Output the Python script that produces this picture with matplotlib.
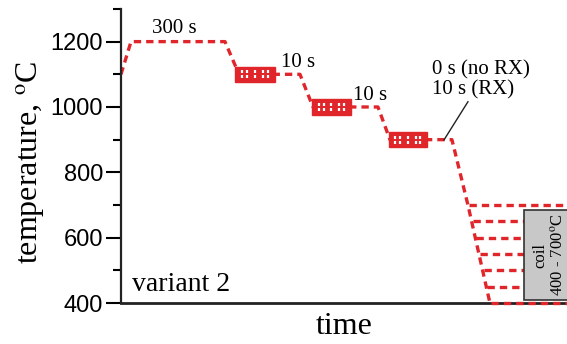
import matplotlib
matplotlib.use('Agg')
import matplotlib.pyplot as plt
from matplotlib.patches import Rectangle
import numpy as np

plt.rcParams['mathtext.fontset'] = 'stix'

# schedule (time in arbitrary units, temperature in C)
path_time = [0, 10, 104, 118, 179, 192, 257, 269, 331, 347, 369]
path_temp = [1100, 1200, 1200, 1100, 1100, 1000, 1000, 900, 900, 700, 400]

# rolling passes
roll_start = [114, 191, 268]
roll_end = [154, 230, 306]
roll_temp = [1100, 1000, 900]

# coiling temperatures
coil_temps = [700, 650, 600, 550, 500, 450, 400]
coil_box = (403, 409, 685)  # x start, T low, T high

red = '#e0262b'

fig = plt.figure(figsize=(5.67, 3.44), dpi=100)
ax = fig.add_axes([0.2134, 0.119, 0.79, 0.855])

# main dashed path
ax.plot(path_time, path_temp, color=red, lw=2.4, dashes=(2.2, 1.5), zorder=2)

# branches to coiling
for T in coil_temps:
    xs = np.interp(T, [400, 700], [369, 347]) + 1
    z = 4 if T in (700, 400) else 1
    ax.plot([xs, 460], [T, T], color=red, lw=2.4, dashes=(2.2, 1.5), zorder=z,
            clip_on=False)

# coil box
ax.add_patch(Rectangle((coil_box[0], coil_box[1]), 60, coil_box[2] - coil_box[1],
                       facecolor='#c8c8c8', edgecolor='#333333', lw=1.2, zorder=3,
                       clip_on=False))
ax.text(419, 547, 'coil', rotation=90, ha='center', va='center', fontsize=12,
        family='Liberation Serif', zorder=5)
ax.text(437, 547, '400 - 700$^{\\rm o}$C', rotation=90, ha='center', va='center',
        fontsize=12, family='Liberation Serif', zorder=5, clip_on=False)

# roll pass symbols
for x0, x1, T in zip(roll_start, roll_end, roll_temp):
    ax.add_patch(Rectangle((x0, T - 23), x1 - x0, 46, facecolor=red, edgecolor=red,
                           lw=1, zorder=4))
    w = x1 - x0
    for f in [0.17, 0.3, 0.5, 0.7, 0.83]:
        ax.plot([x0 + f * w] * 2, [T + 3, T + 12], color='white', lw=1.6, zorder=5,
                solid_capstyle='butt')
        ax.plot([x0 + f * w] * 2, [T - 12, T - 3], color='white', lw=1.6, zorder=5,
                solid_capstyle='butt')

# annotations
tf = dict(family='Liberation Serif', fontsize=15, va='baseline')
ax.text(53.5, 1227, '300 s', ha='center', **tf)
ax.text(160, 1123, '10 s', ha='left', **tf)
ax.text(232, 1022, '10 s', ha='left', **tf)
ax.text(311, 1098, '0 s (no RX)', ha='left', **tf)
ax.text(311, 1037, '10 s (RX)', ha='left', **tf)
ax.plot([347, 323], [1016, 899], color='#222222', lw=1.0, zorder=5)
ax.text(11, 437, 'variant 2', family='Liberation Serif', fontsize=20, va='baseline')

ax.set_xlim(0, 448)
ax.set_ylim(400, 1300)
ax.set_yticks([400, 600, 800, 1000, 1200])
ax.set_yticks([500, 700, 900, 1100, 1300], minor=True)
ax.set_xticks([])
for lab in ax.get_yticklabels():
    lab.set_family('Liberation Sans')
ax.tick_params(axis='y', which='major', length=11, width=1.5, labelsize=17, pad=2)
ax.tick_params(axis='y', which='minor', length=6, width=1.5)
ax.spines['top'].set_visible(False)
ax.spines['right'].set_visible(False)
ax.spines['left'].set_linewidth(1.6)
ax.spines['bottom'].set_linewidth(2.0)
ax.spines['left'].set_color('#222222')
ax.spines['bottom'].set_color('#222222')

ax.set_ylabel('temperature, $^{\\rm o}$C', family='Liberation Serif', fontsize=23)
ax.yaxis.set_label_coords(-0.165, 0.48)
ax.set_xlabel('time', family='Liberation Serif', fontsize=23)
ax.xaxis.set_label_coords(0.498, -0.03)

plt.savefig('out.png', dpi=100)
